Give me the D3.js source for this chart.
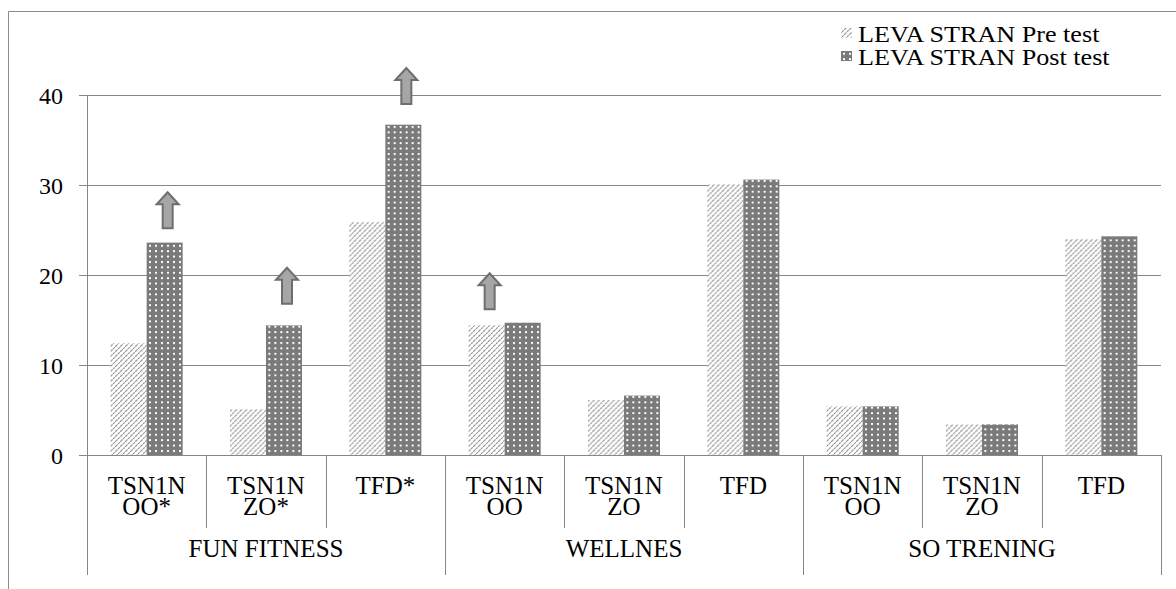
<!DOCTYPE html>
<html>
<head>
<meta charset="utf-8">
<script src="https://cdn.jsdelivr.net/npm/d3@7"></script>
<style>
  html, body { margin: 0; padding: 0; background: #fff; }
  svg { display: block; }
</style>
</head>
<body>
<svg id="chart" width="1176" height="589"></svg>
<script>
// Group (outer) and test (inner) categories
const groups = ["FUN FITNESS", "WELLNES", "SO TRENING"];
const tests = [["TSN1N", "OO*"], ["TSN1N", "ZO*"], ["TFD*"],
               ["TSN1N", "OO"], ["TSN1N", "ZO"], ["TFD"],
               ["TSN1N", "OO"], ["TSN1N", "ZO"], ["TFD"]];
const testGroup = [0, 0, 0, 1, 1, 1, 2, 2, 2];

const seriesNames = ["LEVA STRAN Pre test", "LEVA STRAN Post test"];
const preValues  = [12.4, 5.1, 25.9, 14.4, 6.1, 30.1, 5.4, 3.4, 24.0];
const postValues = [23.6, 14.4, 36.7, 14.7, 6.6, 30.6, 5.4, 3.4, 24.3];

const yTicks = [0, 10, 20, 30, 40];

// Improvement arrows: category index, series it sits above, value at the arrow's foot
const arrowCats   = [0, 1, 2, 3];
const arrowSeries = [1, 1, 1, 0];
const arrowBase   = [25.2, 16.8, 39.0, 16.2];

const FONT = "'Liberation Serif', 'Times New Roman', Times, serif";

const svg = d3.select("#chart");
const W = 1176, H = 589;
const plot = { left: 87, right: 1161, top: 95, bottom: 455 };
const axisColor = "#878787";

// outer chart frame
svg.append("path")
  .attr("d", `M8.5,${H} V11.5 H${W}`)
  .attr("fill", "none").attr("stroke", "#8a8a8a").attr("stroke-width", 1);

const defs = svg.append("defs");

// pre test: white with wide upward diagonal hatching
const hatch = defs.append("pattern")
  .attr("id", "hatch").attr("patternUnits", "userSpaceOnUse")
  .attr("width", 5).attr("height", 5);
hatch.append("rect").attr("width", 5).attr("height", 5).attr("fill", "#fff");
hatch.append("path")
  .attr("d", "M-1,6 L6,-1 M-1,1 L1,-1 M4,6 L6,4")
  .attr("stroke", "#8c8c8c").attr("stroke-width", 1.15)
  .attr("stroke-dasharray", "2.2,0.8");

// post test: dark grey with white dots
const dots = defs.append("pattern")
  .attr("id", "dots").attr("patternUnits", "userSpaceOnUse")
  .attr("width", 6).attr("height", 5.4);
dots.append("rect").attr("width", 6).attr("height", 5.4).attr("fill", "#7a7a7a");
dots.append("rect").attr("x", 2).attr("y", 1.8).attr("width", 2).attr("height", 1.9).attr("fill", "#ffffff");

const fills = ["url(#hatch)", "url(#dots)"];

const y = d3.scaleLinear().domain([0, 40]).range([plot.bottom, plot.top]);
const x0 = d3.scaleBand().domain(d3.range(tests.length))
  .range([plot.left, plot.right]).paddingInner(0).paddingOuter(0);
const x1 = d3.scaleBand().domain([0, 1])
  .range([0, x0.bandwidth()]).paddingInner(0).paddingOuter(0.657);

// gridlines with left tick stubs
const yAxis = d3.axisLeft(y).tickValues(yTicks)
  .tickSize(plot.right - plot.left + 8).tickPadding(16)
  .tickFormat(d3.format("d"));
const gy = svg.append("g").attr("transform", `translate(${plot.right},0)`).call(yAxis);
gy.select(".domain").remove();
gy.selectAll(".tick line").attr("stroke", axisColor).attr("shape-rendering", "crispEdges");
gy.selectAll(".tick text")
  .style("font-family", FONT)
  .style("font-size", "24px").attr("fill", "#000").attr("dy", "0.34em");

// value axis line
svg.append("line")
  .attr("x1", plot.left + 0.5).attr("x2", plot.left + 0.5)
  .attr("y1", plot.top).attr("y2", plot.bottom)
  .attr("stroke", axisColor);

// bars
const data = d3.range(tests.length).map(i => [preValues[i], postValues[i]]);
const cat = svg.append("g").selectAll("g").data(data).join("g")
  .attr("transform", (d, i) => `translate(${x0(i)},0)`);
cat.selectAll("rect").data(d => d).join("rect")
  .attr("x", (d, j) => x1(j))
  .attr("width", x1.bandwidth())
  .attr("y", d => y(d))
  .attr("height", d => y(0) - y(d))
  .attr("fill", (d, j) => fills[j]);

// baseline over the bars
svg.append("line")
  .attr("x1", plot.left - 8).attr("x2", plot.right)
  .attr("y1", plot.bottom + 0.5).attr("y2", plot.bottom + 0.5)
  .attr("stroke", axisColor);

// category axis: separators and two-level labels
const sepInner = 528, sepOuter = 575;
d3.range(tests.length + 1).forEach(i => {
  const xx = i < tests.length ? x0(i) : plot.right;
  const outer = i % 3 === 0;
  svg.append("line")
    .attr("x1", Math.round(xx) + 0.5).attr("x2", Math.round(xx) + 0.5)
    .attr("y1", plot.bottom).attr("y2", outer ? sepOuter : sepInner)
    .attr("stroke", axisColor);
});

const catLabels = svg.append("g").selectAll("text").data(tests).join("text")
  .attr("x", (d, i) => x0(i) + x0.bandwidth() / 2)
  .attr("y", 494)
  .attr("text-anchor", "middle")
  .style("font-family", FONT)
  .style("font-size", "25px");
catLabels.selectAll("tspan").data(d => d).join("tspan")
  .attr("x", function () { return this.parentNode.getAttribute("x"); })
  .attr("dy", (d, k) => k === 0 ? 0 : 21)
  .text(d => d);

svg.append("g").selectAll("text").data(groups).join("text")
  .attr("x", (d, g) => {
    const idx = testGroup.map((v, i) => v === g ? i : -1).filter(i => i >= 0);
    return (x0(idx[0]) + x0(idx[idx.length - 1]) + x0.bandwidth()) / 2;
  })
  .attr("y", 557)
  .attr("text-anchor", "middle")
  .style("font-family", FONT)
  .style("font-size", "25px")
  .text(d => d);

// improvement arrows
const arrowH = 36, headH = 12, headW = 22, shaftW = 10;
svg.append("g").selectAll("path").data(arrowCats).join("path")
  .attr("d", (c, k) => {
    const cx = x0(c) + x1(arrowSeries[k]) + x1.bandwidth() / 2 + 3;
    const yb = y(arrowBase[k]);
    const yt = yb - arrowH;
    return `M${cx - shaftW / 2},${yb} V${yt + headH} H${cx - headW / 2} L${cx},${yt} L${cx + headW / 2},${yt + headH} H${cx + shaftW / 2} V${yb} Z`;
  })
  .attr("fill", "#a6a6a6").attr("stroke", "#6e6e6e").attr("stroke-width", 2)
  .attr("stroke-linejoin", "miter");

// legend
const legend = svg.append("g").selectAll("g").data(seriesNames).join("g")
  .attr("transform", (d, i) => `translate(841,${28 + i * 23})`);
legend.append("rect").attr("width", 11).attr("height", 10).attr("fill", (d, i) => fills[i]);
legend.append("text").attr("x", 17).attr("y", 14)
  .attr("transform", "translate(17,0) scale(1.09,1) translate(-17,0)")
  .style("font-family", FONT).style("font-size", "24px")
  .text(d => d);
</script>
</body>
</html>
